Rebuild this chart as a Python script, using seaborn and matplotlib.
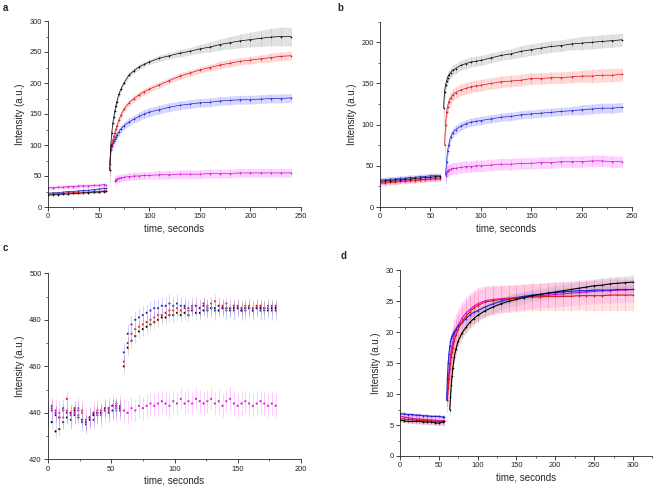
import numpy as np
import pandas as pd
import seaborn as sns
import matplotlib.pyplot as plt
from matplotlib.ticker import AutoMinorLocator, MultipleLocator

nan = np.nan

# ---- panel a ----
a_t = [0, 5, 10, 15, 20, 25, 30, 35, 40, 45, 50, 55, 57, 59,
       61, 62, 63, 64, 65, 66, 67, 68, 70, 72, 75, 80, 85, 90, 95, 100,
       110, 120, 130, 140, 150, 160, 170, 180, 190, 200, 210, 220, 230, 240]
a_black = [19, 20, 20, 21, 21, 22, 22, 23, 23, 24, 24, 25, 26, nan,
           60, 100, 120, 135, 145, 155, 163, 170, 182, 190, 200, 213, 220, 226, 230, 234,
           240, 244, 248, 251, 255, 258, 262, 265, 268, 270, 272, 274, 275, 275]
a_black_err = [2, 2, 2, 2, 2, 2, 2, 2, 2, 2, 2, 2, 2, nan,
               20, 10, 6, 5, 5, 4, 4, 4, 4, 4, 4, 4, 4, 4, 4, 4,
               5, 5, 6, 6, 7, 8, 9, 10, 11, 12, 13, 14, 15, 15]
a_red = [21, 21, 22, 22, 23, 23, 24, 24, 24, 25, 25, 26, 26, nan,
         60, 95, 102, 108, 114, 120, 126, 131, 140, 148, 158, 168, 175, 181, 186, 190,
         197, 204, 211, 216, 221, 225, 229, 232, 235, 237, 239, 241, 243, 244]
a_red_err = [2, 2, 2, 2, 2, 2, 2, 2, 2, 2, 2, 2, 2, nan,
             15, 6, 5, 5, 5, 5, 5, 5, 5, 5, 5, 5, 5, 5, 5, 5,
             5, 5, 5, 5, 5, 5, 6, 6, 6, 6, 6, 7, 7, 7]
a_blue = [22, 23, 23, 24, 25, 25, 26, 27, 27, 28, 29, 30, 30, nan,
          70, 92, 98, 103, 107, 110, 113, 116, 121, 126, 131, 137, 142, 146, 150, 153,
          157, 161, 164, 166, 168, 169, 171, 172, 173, 173, 174, 175, 175, 176]
a_blue_err = [2, 2, 2, 2, 2, 2, 2, 2, 2, 2, 2, 2, 2, nan,
              15, 6, 6, 6, 6, 6, 6, 6, 6, 6, 6, 6, 6, 7, 7, 7,
              7, 7, 7, 7, 7, 7, 7, 7, 7, 7, 7, 7, 7, 7]
a_mag = [31, 31, 32, 32, 33, 33, 34, 34, 34, 35, 35, 36, 36, nan,
         nan, nan, nan, nan, nan, 42, 44, 45, 46, 47, 48, 49, 50, 50, 51, 51,
         52, 52, 53, 53, 53, 54, 54, 54, 55, 55, 55, 55, 55, 55]
a_mag_err = [3, 3, 3, 3, 3, 3, 3, 3, 3, 3, 3, 3, 3, nan,
             nan, nan, nan, nan, nan, 6, 6, 6, 6, 6, 6, 6, 6, 6, 6, 6,
             7, 7, 7, 7, 7, 7, 7, 7, 7, 7, 7, 7, 7, 7]

# ---- panel b ----
b_t = [0, 5, 10, 15, 20, 25, 30, 35, 40, 45, 50, 55, 60, 62,
       63, 64, 65, 66, 67, 68, 70, 72, 75, 80, 85, 90, 95, 100,
       110, 120, 130, 140, 150, 160, 170, 180, 190, 200, 210, 220, 230, 240]
b_black = [31, 32, 32, 33, 33, 34, 34, 35, 35, 36, 36, 37, 37, nan,
           120, 140, 148, 153, 157, 160, 163, 166, 168, 172, 174, 176, 177, 178,
           181, 184, 186, 189, 191, 193, 195, 196, 198, 199, 200, 201, 202, 203]
b_black_err = [3, 3, 3, 3, 3, 3, 3, 3, 3, 3, 3, 3, 3, nan,
               20, 8, 6, 6, 6, 6, 6, 6, 6, 6, 6, 6, 6, 6,
               6, 6, 6, 7, 7, 7, 7, 7, 7, 8, 8, 8, 8, 8]
b_red = [29, 29, 30, 30, 31, 31, 32, 32, 33, 33, 34, 34, 34, nan,
         nan, 75, 100, 115, 122, 127, 132, 136, 139, 142, 144, 146, 147, 148,
         150, 152, 153, 154, 156, 156, 157, 157, 158, 159, 159, 160, 160, 161]
b_red_err = [3, 3, 3, 3, 3, 3, 3, 3, 3, 3, 3, 3, 3, nan,
             nan, 20, 10, 7, 7, 7, 7, 7, 7, 7, 7, 7, 7, 7,
             7, 7, 7, 7, 7, 7, 7, 7, 7, 7, 8, 8, 8, 8]
b_blue = [33, 33, 34, 34, 35, 35, 36, 36, 37, 37, 38, 38, 38, nan,
          nan, nan, 40, 55, 68, 75, 85, 90, 94, 98, 101, 103, 104, 105,
          107, 109, 110, 112, 113, 114, 115, 116, 117, 118, 119, 120, 120, 121]
b_blue_err = [3, 3, 3, 3, 3, 3, 3, 3, 3, 3, 3, 3, 3, nan,
              nan, nan, 12, 8, 6, 5, 5, 5, 5, 5, 5, 5, 5, 5,
              5, 5, 5, 5, 5, 5, 5, 5, 5, 6, 6, 6, 6, 6]
b_mag = [30, 30, 31, 31, 32, 32, 33, 33, 33, 34, 34, 35, 35, nan,
         nan, nan, 38, 42, 44, 45, 46, 47, 47, 48, 49, 49, 50, 50,
         51, 52, 52, 53, 53, 54, 54, 55, 55, 55, 56, 56, 55, 55]
b_mag_err = [3, 3, 3, 3, 3, 3, 3, 3, 3, 3, 3, 3, 3, nan,
             nan, nan, 7, 7, 7, 7, 7, 7, 7, 7, 7, 7, 7, 7,
             7, 7, 7, 7, 7, 7, 7, 7, 7, 7, 7, 7, 7, 7]

# ---- panel c ----
c_t = [0, 3, 6, 9, 12, 15, 18, 21, 24, 27, 30, 33, 36, 39, 42, 45, 48, 51, 54, 57,
       60, 63, 66, 69, 72, 75, 78, 81, 84, 87, 90, 93, 96, 99, 102, 105, 108, 111,
       114, 117, 120, 123, 126, 129, 132, 135, 138, 141, 144, 147, 150, 153, 156,
       159, 162, 165, 168, 171, 174, 177, 180]
c_black = [440, 436, 432, 433, 436, 438, 440, 441, 438, 437, 436, 437, 439, 440, 440, 441, 442, 443, 443, 442,
           460, 468, 471, 473, 475, 476, 477, 478, 479, 480, 481, 481, 482, 482, 483, 482, 483, 482,
           484, 483, 483, 484, 484, 485, 485, 484, 485, 485, 484, 485, 485, 484, 485,
           485, 484, 485, 485, 485, 484, 485, 485]
c_red = [441, 443, 440, 438, 441, 446, 440, 442, 439, 441, 436, 438, 440, 440, 441, 442, 441, 443, 444, 443,
         462, 470, 474, 476, 477, 478, 479, 480, 481, 482, 482, 483, 484, 484, 485, 484, 485, 484,
         485, 486, 485, 487, 486, 487, 488, 486, 486, 487, 485, 486, 486, 485, 486,
         486, 485, 486, 486, 485, 486, 486, 486]
c_blue = [438, 441, 439, 438, 442, 440, 437, 439, 441, 436, 435, 438, 437, 439, 440, 442, 440, 441, 442, 441,
          466, 474, 478, 480, 481, 482, 483, 484, 485, 485, 486, 486, 487, 486, 487, 486, 486, 485,
          486, 486, 485, 486, 485, 485, 484, 486, 485, 484, 485, 484, 485, 484, 484,
          485, 484, 485, 484, 484, 485, 484, 484]
c_mag = [439, 442, 441, 440, 438, 441, 439, 440, 442, 440, 437, 438, 440, 441, 439, 441, 442, 443, 441, 443,
         441, 440, 442, 441, 443, 442, 443, 444, 443, 444, 445, 444, 443, 445, 444, 446, 444, 445,
         444, 446, 445, 444, 445, 446, 444, 445, 443, 445, 446, 444, 443, 444, 445,
         444, 443, 444, 445, 444, 443, 444, 443]
c_err = {"black": 3, "red": 3, "blue": 4, "magenta": 5}

# ---- panel d ----
d_t = [0, 5, 10, 15, 20, 25, 30, 35, 40, 45, 50, 55, 57, 59,
       60, 61, 62, 63, 64, 65, 66, 67, 68, 70, 72, 75, 80, 85, 90, 95, 100,
       110, 120, 130, 140, 150, 160, 170, 180, 190, 200, 210, 220, 230, 240,
       250, 260, 270, 280, 290, 300]
d_black = [5.8, 5.7, 5.6, 5.6, 5.6, 5.6, 5.5, 5.5, 5.5, 5.4, 5.3, 5.5, 5.6, nan,
           nan, nan, nan, nan, 7.5, 9.5, 11.5, 13.0, 14.2, 16.0, 17.3, 18.6, 19.9, 20.8, 21.6, 22.2, 22.7,
           23.5, 24.1, 24.6, 25.0, 25.3, 25.6, 25.9, 26.1, 26.3, 26.5, 26.7, 26.9, 27.1, 27.3,
           27.5, 27.6, 27.8, 27.9, 28.0, 28.1]
d_black_err = [0.3, 0.3, 0.3, 0.3, 0.3, 0.3, 0.3, 0.3, 0.3, 0.3, 0.3, 0.3, 0.3, nan,
               nan, nan, nan, nan, 1.2, 1.2, 1.0, 1.0, 1.0, 1.0, 1.0, 1.0, 1.0, 1.0, 1.0, 1.0, 1.0,
               1.0, 1.0, 1.0, 1.0, 1.0, 1.0, 1.0, 1.0, 1.0, 1.0, 1.0, 1.0, 1.0, 1.0,
               1.0, 1.1, 1.1, 1.1, 1.1, 1.1]
d_red = [6.0, 6.0, 5.9, 5.9, 5.8, 5.8, 5.7, 5.7, 5.7, 5.6, 5.6, 5.6, 5.6, nan,
         nan, 9.0, 11.0, 12.5, 14.0, 15.0, 16.0, 16.8, 17.5, 18.6, 19.5, 20.5, 21.7, 22.6, 23.3, 23.9, 24.3,
         24.9, 25.1, 25.3, 25.4, 25.5, 25.6, 25.7, 25.7, 25.8, 25.8, 25.8, 25.8, 25.9, 25.9,
         25.9, 25.9, 26.0, 26.0, 26.0, 26.0]
d_red_err = [0.6, 0.6, 0.6, 0.6, 0.6, 0.6, 0.6, 0.6, 0.6, 0.6, 0.6, 0.6, 0.6, nan,
             nan, 2.0, 2.2, 2.3, 2.4, 2.5, 2.5, 2.5, 2.5, 2.5, 2.5, 2.5, 2.5, 2.5, 2.5, 2.5, 2.5,
             2.4, 2.3, 2.2, 2.2, 2.2, 2.2, 2.2, 2.2, 2.2, 2.3, 2.3, 2.3, 2.3, 2.4,
             2.4, 2.4, 2.5, 2.5, 2.5, 2.5]
d_blue = [6.8, 6.8, 6.7, 6.7, 6.6, 6.6, 6.5, 6.5, 6.4, 6.4, 6.4, 6.3, 6.3, nan,
          9.0, 12.5, 15.0, 16.5, 17.7, 18.5, 19.0, 19.4, 19.7, 20.1, 20.5, 21.0, 21.6, 22.2, 22.8, 23.2, 23.5,
          24.1, 24.6, 25.0, 25.3, 25.6, 25.8, 26.0, 26.1, 26.3, 26.4, 26.5, 26.6, 26.7, 26.7,
          26.8, 26.8, 26.8, 26.9, 26.9, 26.9]
d_blue_err = [0.3, 0.3, 0.3, 0.3, 0.3, 0.3, 0.3, 0.3, 0.3, 0.3, 0.3, 0.3, 0.3, nan,
              1.0, 1.0, 0.8, 0.7, 0.6, 0.6, 0.6, 0.6, 0.6, 0.6, 0.6, 0.6, 0.6, 0.6, 0.6, 0.6, 0.6,
              0.6, 0.6, 0.6, 0.6, 0.6, 0.6, 0.6, 0.6, 0.6, 0.6, 0.6, 0.6, 0.6, 0.7,
              0.7, 0.7, 0.7, 0.7, 0.7, 0.7]
d_mag = [6.4, 6.3, 6.2, 6.1, 6.0, 6.0, 5.9, 5.9, 5.8, 5.8, 5.7, 5.7, 5.7, nan,
         nan, 10.0, 12.0, 13.5, 15.0, 16.0, 17.0, 17.8, 18.4, 19.5, 20.3, 21.2, 22.3, 23.1, 23.7, 24.2, 24.6,
         25.1, 25.3, 25.4, 25.5, 25.6, 25.7, 25.8, 25.9, 26.0, 26.1, 26.2, 26.3, 26.4, 26.5,
         26.6, 26.7, 26.7, 26.8, 26.8, 26.9]
d_mag_err = [0.8, 0.8, 0.8, 0.8, 0.8, 0.8, 0.8, 0.8, 0.8, 0.8, 0.8, 0.8, 0.8, nan,
             nan, 2.0, 2.2, 2.4, 2.5, 2.6, 2.6, 2.6, 2.6, 2.6, 2.6, 2.6, 2.6, 2.6, 2.6, 2.6, 2.6,
             2.4, 2.3, 2.2, 2.1, 2.0, 2.0, 2.0, 2.0, 2.0, 2.0, 2.0, 2.0, 2.0, 2.0,
             2.0, 2.0, 2.0, 2.0, 2.0, 2.0]

line_colors = {"black": "#000000", "red": "#e01010", "blue": "#2020d0", "magenta": "#d010d0"}
band_colors = {"black": "#a0a0a0", "red": "#ff8080", "blue": "#8080ff", "magenta": "#ff70ff"}
order = ["magenta", "blue", "red", "black"]

sns.set_style("ticks")
plt.rcParams["font.family"] = ["Liberation Sans", "DejaVu Sans"]


def long_frame(t, series):
    rows = []
    for name, (vals, errs) in series.items():
        seg = 0
        for ti, v, e in zip(t, vals, errs):
            if np.isnan(v):
                seg += 1
                continue
            rows.append({"t": ti, "v": v, "e": e, "series": name, "seg": seg})
    return pd.DataFrame(rows)


def style_axis(ax, xlim, ylim, xstep, ystep):
    ax.set_xlim(*xlim)
    ax.set_ylim(*ylim)
    ax.xaxis.set_major_locator(MultipleLocator(xstep))
    ax.yaxis.set_major_locator(MultipleLocator(ystep))
    ax.xaxis.set_minor_locator(AutoMinorLocator(2))
    ax.yaxis.set_minor_locator(AutoMinorLocator(2))
    ax.tick_params(which="major", length=3, width=0.6, labelsize=5.4, pad=1.5, colors="#222222")
    ax.tick_params(which="minor", length=1.6, width=0.5)
    for s in ["left", "bottom"]:
        ax.spines[s].set_linewidth(0.6)
    sns.despine(ax=ax)
    ax.set_xlabel("time, seconds", fontsize=7, labelpad=2)
    ax.set_ylabel("Intensity (a.u.)", fontsize=7, labelpad=3)


def draw_lines(ax, df, ms=1.2, lw=0.5, alpha=0.3):
    for name in order:
        sub = df[df.series == name]
        for _, g in sub.groupby("seg"):
            ax.fill_between(g.t, g.v - g.e, g.v + g.e, color=band_colors[name],
                            alpha=alpha, lw=0)
            ax.errorbar(g.t, g.v, yerr=g.e, fmt="none", ecolor=band_colors[name],
                        elinewidth=0.4, alpha=0.45)
    sns.lineplot(data=df, x="t", y="v", hue="series", units="seg", estimator=None,
                 palette=line_colors, hue_order=order, marker="o", markersize=ms,
                 markeredgewidth=0, linewidth=lw, legend=False, sort=False, ax=ax)


fig = plt.figure(figsize=(6.54, 4.88), dpi=100)
W, H = 654.0, 488.0


def axes_px(left, right, top, bottom):
    return fig.add_axes([left / W, 1 - bottom / H, (right - left) / W, (bottom - top) / H])


ax_a = axes_px(48, 301, 21, 207)
ax_b = axes_px(380, 632, 21.7, 207)
ax_c = axes_px(48, 301, 273.3, 459.3)
ax_d = axes_px(400, 652.4, 270.3, 456)

df_a = long_frame(a_t, {"black": (a_black, a_black_err), "red": (a_red, a_red_err),
                        "blue": (a_blue, a_blue_err), "magenta": (a_mag, a_mag_err)})
draw_lines(ax_a, df_a)
style_axis(ax_a, (0, 250), (0, 300), 50, 50)

df_b = long_frame(b_t, {"black": (b_black, b_black_err), "red": (b_red, b_red_err),
                        "blue": (b_blue, b_blue_err), "magenta": (b_mag, b_mag_err)})
draw_lines(ax_b, df_b)
style_axis(ax_b, (0, 250), (0, 225), 50, 50)

c_vals = {"black": c_black, "red": c_red, "blue": c_blue, "magenta": c_mag}
df_c = pd.concat([pd.DataFrame({"t": c_t, "v": v, "series": k}) for k, v in c_vals.items()])
for name in ["magenta", "black", "red", "blue"]:
    g = df_c[df_c.series == name]
    ax_c.errorbar(g.t, g.v, yerr=c_err[name], fmt="none", ecolor=band_colors[name],
                  elinewidth=0.5, alpha=0.5)
sns.scatterplot(data=df_c, x="t", y="v", hue="series", palette=line_colors,
                hue_order=["magenta", "black", "red", "blue"], s=2.5, linewidth=0,
                legend=False, ax=ax_c)
style_axis(ax_c, (0, 200), (420, 500), 50, 20)

df_d = long_frame(d_t, {"black": (d_black, d_black_err), "red": (d_red, d_red_err),
                        "blue": (d_blue, d_blue_err), "magenta": (d_mag, d_mag_err)})
draw_lines(ax_d, df_d, ms=1.2, lw=0.8, alpha=0.22)
style_axis(ax_d, (0, 325), (0, 30), 50, 5)

for label, x, y in [("a", 3, 8), ("b", 337, 8), ("c", 3, 248), ("d", 341, 256)]:
    fig.text(x / W, 1 - y / H, label, fontsize=7, fontweight="bold", va="center", ha="left")

fig.savefig("out.png", dpi=100)
